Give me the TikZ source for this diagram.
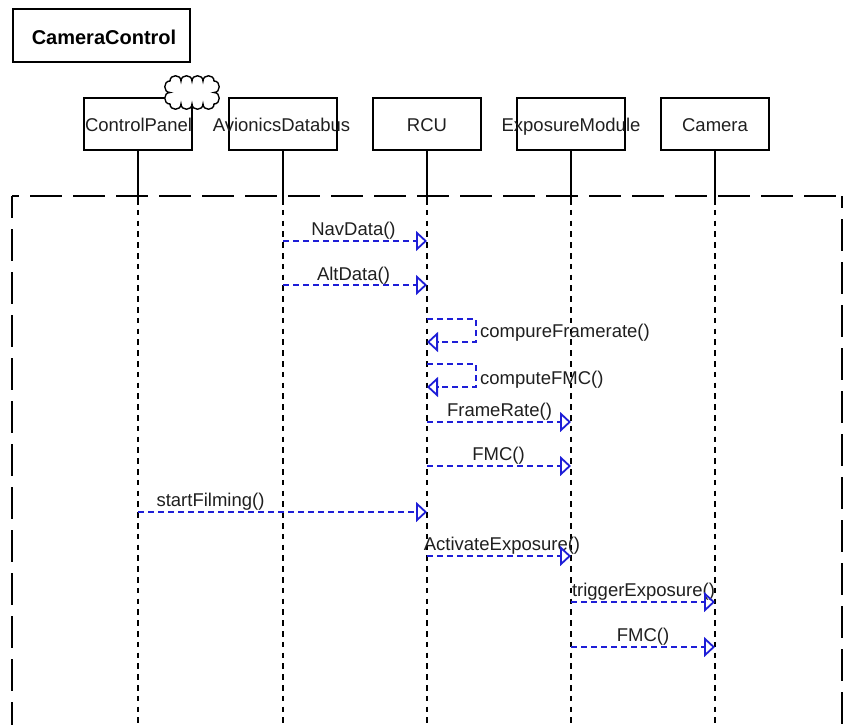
\documentclass[tikz,border=0pt]{standalone}
\usepackage{fontspec}
\setmainfont{Liberation Sans}
\usetikzlibrary{arrows.meta,calc}
\definecolor{msgblue}{RGB}{30,30,215}
\begin{document}
\begin{tikzpicture}[x=1pt,y=-1pt,
  lbox/.style={draw=black, line width=2pt, minimum width=108pt, minimum height=52pt, inner sep=0pt, outer sep=0pt},
  txt/.style={inner sep=0pt, font=\fontsize{18.5}{22}\selectfont, text=black!88, anchor=base},
  lifesolid/.style={line width=2pt, black},
  lifedash/.style={line width=2pt, black, dash pattern=on 5.5pt off 5.3pt},
  frameline/.style={line width=2pt, black, dash pattern=on 32pt off 11pt},
  msg/.style={draw=msgblue, line width=1.8pt, dash pattern=on 6pt off 4pt, -{Triangle[open,length=11pt,width=20pt]}},
]
\useasboundingbox (0,0) rectangle (843,725);
\begin{scope}
\clip (0,0) rectangle (843,725);

% title box
\node[draw=black, line width=2pt, minimum width=177pt, minimum height=53pt, inner sep=0pt, outer sep=0pt] (cc) at (101,36) {};
\node[txt, font=\fontsize{20}{24}\selectfont\bfseries, text=black] (cct) at (104,45) {CameraControl};

% frame
\coordinate (fl) at (12,196);
\coordinate (fr) at (842,196);
\coordinate (ftop) at (0,199);
\coordinate (fbot) at (0,740);
\draw[frameline, dash phase=25pt] (fl) -- (fr);
\draw[frameline, dash phase=10pt] (fl) -- (fl |- fbot);
\draw[frameline, dash phase=20pt] (fr) -- (fr |- fbot);

% lifeline boxes
\node[lbox] (cp) at (138,124) {};
\node[lbox] (ad) at (283,124) {};
\node[lbox] (rcu) at (427,124) {};
\node[lbox] (em) at (571,124) {};
\node[lbox] (cam) at (715,124) {};

% cloud
\draw[line width=1.4pt, fill=white]
  (170,81) .. controls (170,74) and (181,74) .. (181,81)
  .. controls (181,74) and (192,74) .. (192,81)
  .. controls (192,74) and (203,74) .. (203,81)
  .. controls (203,74) and (214,74) .. (214,81)
  .. controls (221,81) and (221,92.5) .. (214,92.5)
  .. controls (221,92.5) and (221,104) .. (214,104)
  .. controls (214,111) and (203,111) .. (203,104)
  .. controls (203,111) and (192,111) .. (192,104)
  .. controls (192,111) and (181,111) .. (181,104)
  .. controls (181,111) and (170,111) .. (170,104)
  .. controls (163,104) and (163,92.5) .. (170,92.5)
  .. controls (163,92.5) and (163,81) .. (170,81) -- cycle;

% box labels
\node[txt] (cpt) at (138.5,131) {ControlPanel};
\node[txt] (adt) at (281.5,131) {AvionicsDatabus};
\node[txt] (rcut) at (427,131) {RCU};
\node[txt] (emt) at (571,131) {ExposureModule};
\node[txt] (camt) at (715,131) {Camera};

% lifelines
\foreach \n in {cp,ad,rcu,em,cam}{
  \draw[lifesolid] (\n.south) -- (\n.south |- ftop);
  \draw[lifedash] (\n.south |- ftop) -- (\n.south |- fbot);
}

% message labels
\node[txt] (l1) at (353.5,235.5) {NavData()};
\node[txt] (l2) at (353.5,280) {AltData()};
\node[txt, anchor=base west] (l3) at (480,337) {compureFramerate()};
\node[txt, anchor=base west] (l4) at (480,384) {computeFMC()};
\node[txt] (l5) at (499.5,416.5) {FrameRate()};
\node[txt] (l6) at (498.5,460.5) {FMC()};
\node[txt] (l7) at (210.5,506.5) {startFilming()};
\node[txt] (l8) at (502,550.5) {ActivateExposure()};
\node[txt] (l9) at (643.5,596.5) {triggerExposure()};
\node[txt] (l10) at (643,641.5) {FMC()};

% messages
\draw[msg] (ad.south |- 0,241) -- (rcu.south |- 0,241);
\draw[msg] (ad.south |- 0,285) -- (rcu.south |- 0,285);
\coordinate (lpa1) at (476,319);
\coordinate (lpa2) at (476,342);
\draw[msg] (rcu.south |- lpa1) -- (lpa1) -- (lpa2) -- (rcu.south |- lpa2);
\coordinate (lpb1) at (476,364);
\coordinate (lpb2) at (476,387);
\draw[msg] (rcu.south |- lpb1) -- (lpb1) -- (lpb2) -- (rcu.south |- lpb2);
\draw[msg] (rcu.south |- 0,422) -- (em.south |- 0,422);
\draw[msg] (rcu.south |- 0,466) -- (em.south |- 0,466);
\draw[msg] (cp.south |- 0,512) -- (rcu.south |- 0,512);
\draw[msg] (rcu.south |- 0,556) -- (em.south |- 0,556);
\draw[msg] (em.south |- 0,602) -- (cam.south |- 0,602);
\draw[msg] (em.south |- 0,647) -- (cam.south |- 0,647);
\end{scope}
\end{tikzpicture}
\end{document}
